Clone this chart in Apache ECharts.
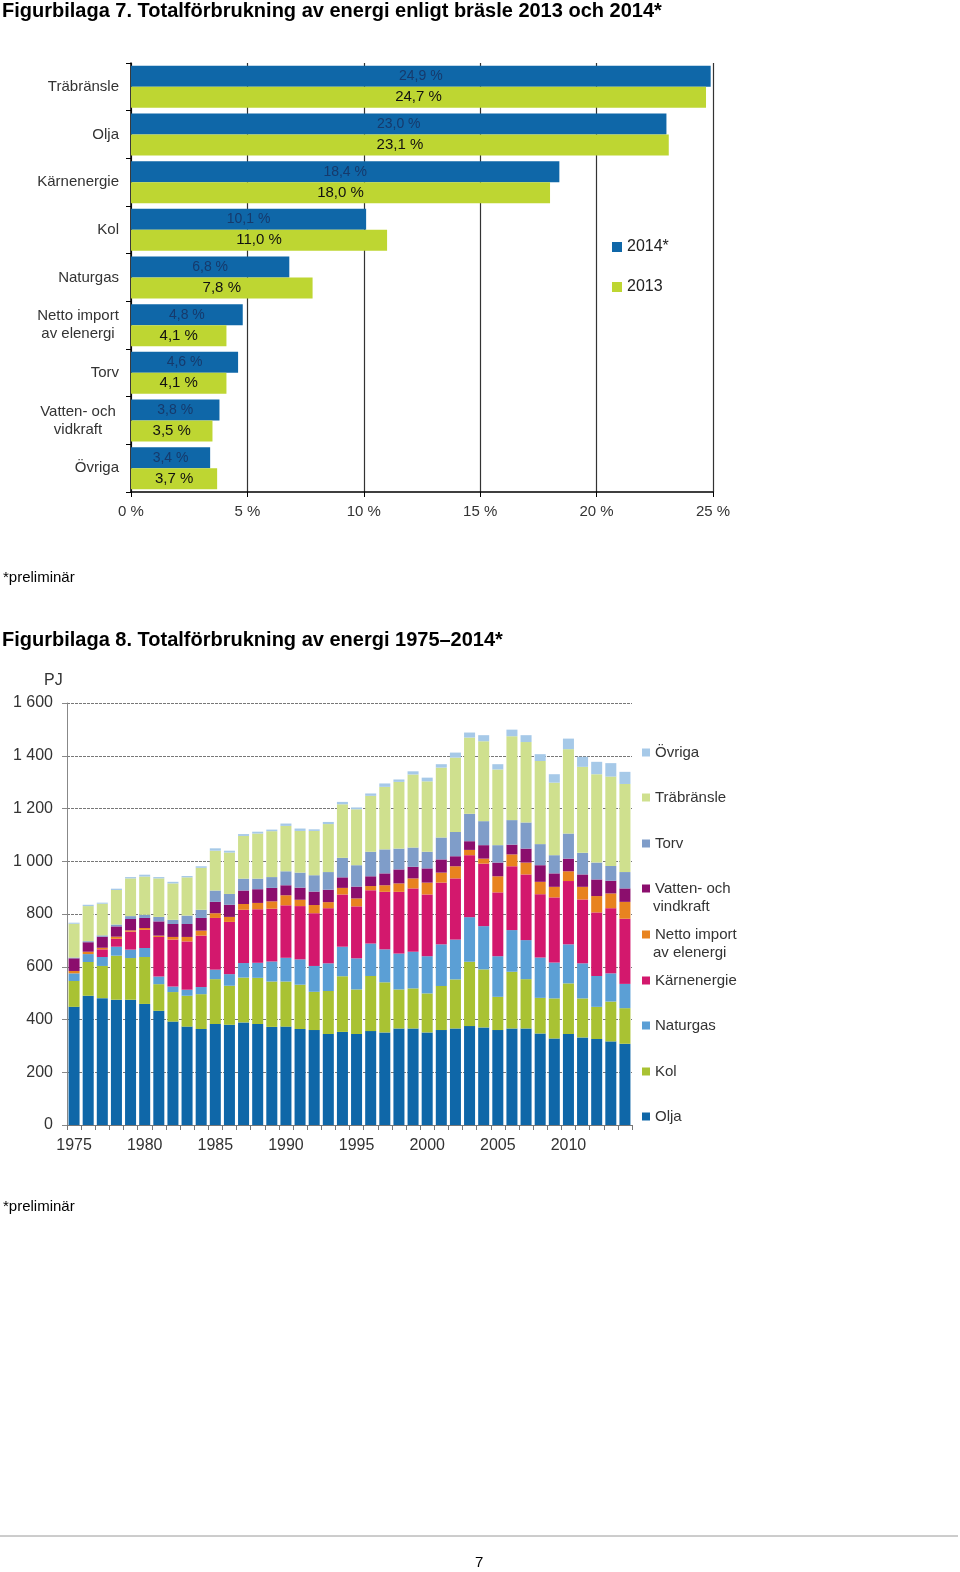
<!DOCTYPE html>
<html>
<head>
<meta charset="utf-8">
<script src="https://cdn.jsdelivr.net/npm/echarts@6/dist/echarts.min.js"></script>
<style>
  html, body { margin: 0; padding: 0; background: #fff; }
  #chart { width: 960px; height: 1572px; }
</style>
</head>
<body>
<div id="chart"></div>
<script>
// ---------- Figurbilaga 7 data ----------
const shareCategories = ['Träbränsle', 'Olja', 'Kärnenergie', 'Kol', 'Naturgas', 'Netto import\nav elenergi', 'Torv', 'Vatten- och\nvidkraft', 'Övriga'];
const share2014 = [24.9, 23.0, 18.4, 10.1, 6.8, 4.8, 4.6, 3.8, 3.4];
const share2013 = [24.7, 23.1, 18.0, 11.0, 7.8, 4.1, 4.1, 3.5, 3.7];
const shareTicks = [0, 5, 10, 15, 20, 25];

// ---------- Figurbilaga 8 data (PJ) ----------
const years = ['1975','1976','1977','1978','1979','1980','1981','1982','1983','1984',
               '1985','1986','1987','1988','1989','1990','1991','1992','1993','1994',
               '1995','1996','1997','1998','1999','2000','2001','2002','2003','2004',
               '2005','2006','2007','2008','2009','2010','2011','2012','2013','2014'];
const olja = [448,490,481,475,475,459,433,392,373,364, 383,380,389,383,372,373,364,360,345,353,
              345,356,351,366,366,351,360,366,375,370, 360,366,366,347,328,345,332,326,317,308];
const kol = [98,128,122,167,158,178,101,112,117,132, 170,148,170,175,172,171,168,145,163,211,
             169,209,190,148,152,148,167,186,244,220, 126,215,187,135,152,192,148,122,151,135];
const naturgas = [29,30,34,34,32,34,29,21,23,27, 36,44,55,57,76,90,96,98,105,112,
                  118,123,125,136,139,141,158,151,169,164, 154,158,148,153,136,148,133,117,107,92];
const karnenergie = [0,0,29,30,68,69,150,178,183,195, 196,198,202,203,200,199,202,200,209,198,
                     197,202,218,234,240,234,234,232,235,237, 242,242,249,240,247,240,242,241,247,247];
const nettoImport = [9,9,6,8,5,7,5,10,17,19, 18,19,22,24,28,38,24,31,23,25,
                     30,16,25,32,38,45,38,46,20,19, 61,45,45,47,40,37,48,62,56,64];
const vattenVind = [48,36,42,39,43,38,54,49,49,48, 43,46,51,52,51,38,46,51,47,40,
                    45,37,45,53,44,54,50,38,33,51, 52,37,53,63,51,48,47,63,48,51];
const torv = [3,4,5,7,11,12,17,16,32,31, 43,41,45,40,41,53,57,62,67,74,
              81,93,91,79,73,63,83,92,104,91, 66,93,99,80,69,95,82,64,56,62];
const trabransle = [128,133,120,131,143,145,146,138,145,159, 151,157,162,171,174,172,158,168,182,203,
                    212,212,237,253,277,267,265,282,289,303, 287,318,305,315,275,320,326,335,339,334];
const ovriga = [4,5,4,5,5,7,5,6,5,6, 9,7,7,7,6,9,9,6,8,9,
                7,9,13,9,12,14,13,19,19,23, 20,25,26,26,32,40,38,47,51,46];
const pjTicks = [0, 200, 400, 600, 800, 1000, 1200, 1400, 1600];

const FONT = '"Liberation Sans", Arial, sans-serif';

const stackDefs = [
  { name: 'Olja', data: olja, color: '#0f67a8' },
  { name: 'Kol', data: kol, color: '#a9c233' },
  { name: 'Naturgas', data: naturgas, color: '#5b9fd5' },
  { name: 'Kärnenergie', data: karnenergie, color: '#d3186d' },
  { name: 'Netto import av elenergi', data: nettoImport, color: '#e8831f' },
  { name: 'Vatten- och vindkraft', data: vattenVind, color: '#8b0e6d' },
  { name: 'Torv', data: torv, color: '#7f9dc9' },
  { name: 'Träbränsle', data: trabransle, color: '#cfe08e' },
  { name: 'Övriga', data: ovriga, color: '#a6c9e8' }
];

// legend placement for the stacked chart (center y of first text line)
const legendRows = [
  { name: 'Övriga', y: 754 },
  { name: 'Träbränsle', y: 799 },
  { name: 'Torv', y: 845 },
  { name: 'Vatten- och vindkraft', y: 890, first: 'Vatten- och', second: 'vindkraft' },
  { name: 'Netto import av elenergi', y: 936, first: 'Netto import', second: 'av elenergi' },
  { name: 'Kärnenergie', y: 982 },
  { name: 'Naturgas', y: 1027 },
  { name: 'Kol', y: 1073 },
  { name: 'Olja', y: 1118 }
];

function pct(v) { return v.toFixed(1).replace('.', ',') + ' %'; }
function thousands(v) {
  const s = String(v);
  return s.length > 3 ? s.slice(0, s.length - 3) + ' ' + s.slice(-3) : s;
}

const chart = echarts.init(document.getElementById('chart'), null, { renderer: 'canvas' });

const legends = [
  { data: ['2014*'], left: 612, top: 239, orient: 'vertical', padding: 0, itemWidth: 10, itemHeight: 10,
    icon: 'rect', textStyle: { fontSize: 16, color: '#222', fontFamily: FONT } },
  { data: ['2013'], left: 612, top: 279, orient: 'vertical', padding: 0, itemWidth: 10, itemHeight: 10,
    icon: 'rect', textStyle: { fontSize: 16, color: '#222', fontFamily: FONT } }
];
const graphics = [
  { type: 'line', shape: { x1: 0, y1: 1536, x2: 958, y2: 1536 }, style: { stroke: '#9a9a9a', lineWidth: 1 } }
];
legendRows.forEach(r => {
  legends.push({
    data: [r.name], left: 642, top: r.y - 9, padding: 0, itemWidth: 8, itemHeight: 8, icon: 'rect',
    formatter: r.first ? (() => r.first) : undefined,
    textStyle: { fontSize: 15, color: '#333', fontFamily: FONT }
  });
  if (r.second) {
    graphics.push({ type: 'text', left: 653, top: r.y + 9,
      style: { text: r.second, font: '15px ' + FONT, fill: '#333' } });
  }
});

const series = [
  { name: '2014*', type: 'bar', xAxisIndex: 0, yAxisIndex: 0, data: share2014,
    itemStyle: { color: '#0f67a8' }, barGap: '0%', barCategoryGap: '12%',
    label: { show: true, position: 'inside', formatter: p => pct(p.value),
      color: '#163a6c', fontSize: 14, fontFamily: FONT } },
  { name: '2013', type: 'bar', xAxisIndex: 0, yAxisIndex: 0, data: share2013,
    itemStyle: { color: '#bed632' }, barGap: '0%', barCategoryGap: '12%',
    label: { show: true, position: 'inside', formatter: p => pct(p.value),
      color: '#111', fontSize: 15, fontFamily: FONT } }
];
stackDefs.forEach(s => {
  series.push({ name: s.name, type: 'bar', stack: 'total', xAxisIndex: 1, yAxisIndex: 1,
    data: s.data, itemStyle: { color: s.color }, barCategoryGap: '22%' });
});

const option = {
  animation: false,
  backgroundColor: '#fff',
  textStyle: { fontFamily: FONT },
  title: [
    { text: 'Figurbilaga 7. Totalförbrukning av energi enligt bräsle 2013 och 2014*', left: 2, top: 1, padding: 0,
      textStyle: { fontSize: 20, fontWeight: 'bold', color: '#000', fontFamily: FONT } },
    { text: '*preliminär', left: 3, top: 570, padding: 0,
      textStyle: { fontSize: 15, fontWeight: 'normal', color: '#000', fontFamily: FONT } },
    { text: 'Figurbilaga 8. Totalförbrukning av energi 1975–2014*', left: 2, top: 630, padding: 0,
      textStyle: { fontSize: 20, fontWeight: 'bold', color: '#000', fontFamily: FONT } },
    { text: 'PJ', left: 44, top: 673, padding: 0,
      textStyle: { fontSize: 16, fontWeight: 'normal', color: '#333', fontFamily: FONT } },
    { text: '*preliminär', left: 3, top: 1199, padding: 0,
      textStyle: { fontSize: 15, fontWeight: 'normal', color: '#000', fontFamily: FONT } },
    { text: '7', left: 475, top: 1555, padding: 0,
      textStyle: { fontSize: 15, fontWeight: 'normal', color: '#000', fontFamily: FONT } }
  ],
  legend: legends,
  graphic: graphics,
  grid: [
    { left: 131, top: 63, width: 582, height: 429, containLabel: false },
    { left: 67, top: 703, width: 565, height: 422, containLabel: false }
  ],
  xAxis: [
    { type: 'value', gridIndex: 0, min: shareTicks[0], max: shareTicks[shareTicks.length - 1], interval: 5,
      axisLine: { show: true, lineStyle: { color: '#000', width: 1.5 } },
      axisTick: { show: true, length: 5, lineStyle: { color: '#000' } },
      axisLabel: { formatter: '{value} %', fontSize: 15, color: '#333', margin: 12, fontFamily: FONT },
      splitLine: { show: true, lineStyle: { color: '#333', width: 1.2 } } },
    { type: 'category', gridIndex: 1, data: years, boundaryGap: true,
      axisLine: { show: true, lineStyle: { color: '#777' } },
      axisTick: { show: true, interval: 0, length: 5, lineStyle: { color: '#777' } },
      axisLabel: { interval: 4, fontSize: 16, color: '#333', margin: 13, fontFamily: FONT } }
  ],
  yAxis: [
    { type: 'category', gridIndex: 0, data: shareCategories, inverse: true,
      axisLine: { show: true, lineStyle: { color: '#000', width: 1.5 } },
      axisTick: { show: true, length: 5, lineStyle: { color: '#000' } },
      axisLabel: { fontSize: 15, color: '#333', margin: 12, fontFamily: FONT,
        formatter: v => v.indexOf('\n') >= 0 ? v.split('\n').map(l => '{c|' + l + '}').join('\n') : v,
        rich: { c: { width: 82, align: 'center', fontSize: 15, color: '#333', fontFamily: FONT, lineHeight: 18 } } } },
    { type: 'value', gridIndex: 1, min: pjTicks[0], max: pjTicks[pjTicks.length - 1], interval: 200,
      axisLine: { show: true, lineStyle: { color: '#888' } },
      axisTick: { show: true, length: 5, lineStyle: { color: '#888' } },
      axisLabel: { formatter: v => thousands(v), fontSize: 16, color: '#333', margin: 14, fontFamily: FONT },
      splitLine: { show: true, lineStyle: { color: '#777', type: [3, 1], width: 1 } } }
  ],
  series: series
};
chart.setOption(option);
</script>
</body>
</html>
